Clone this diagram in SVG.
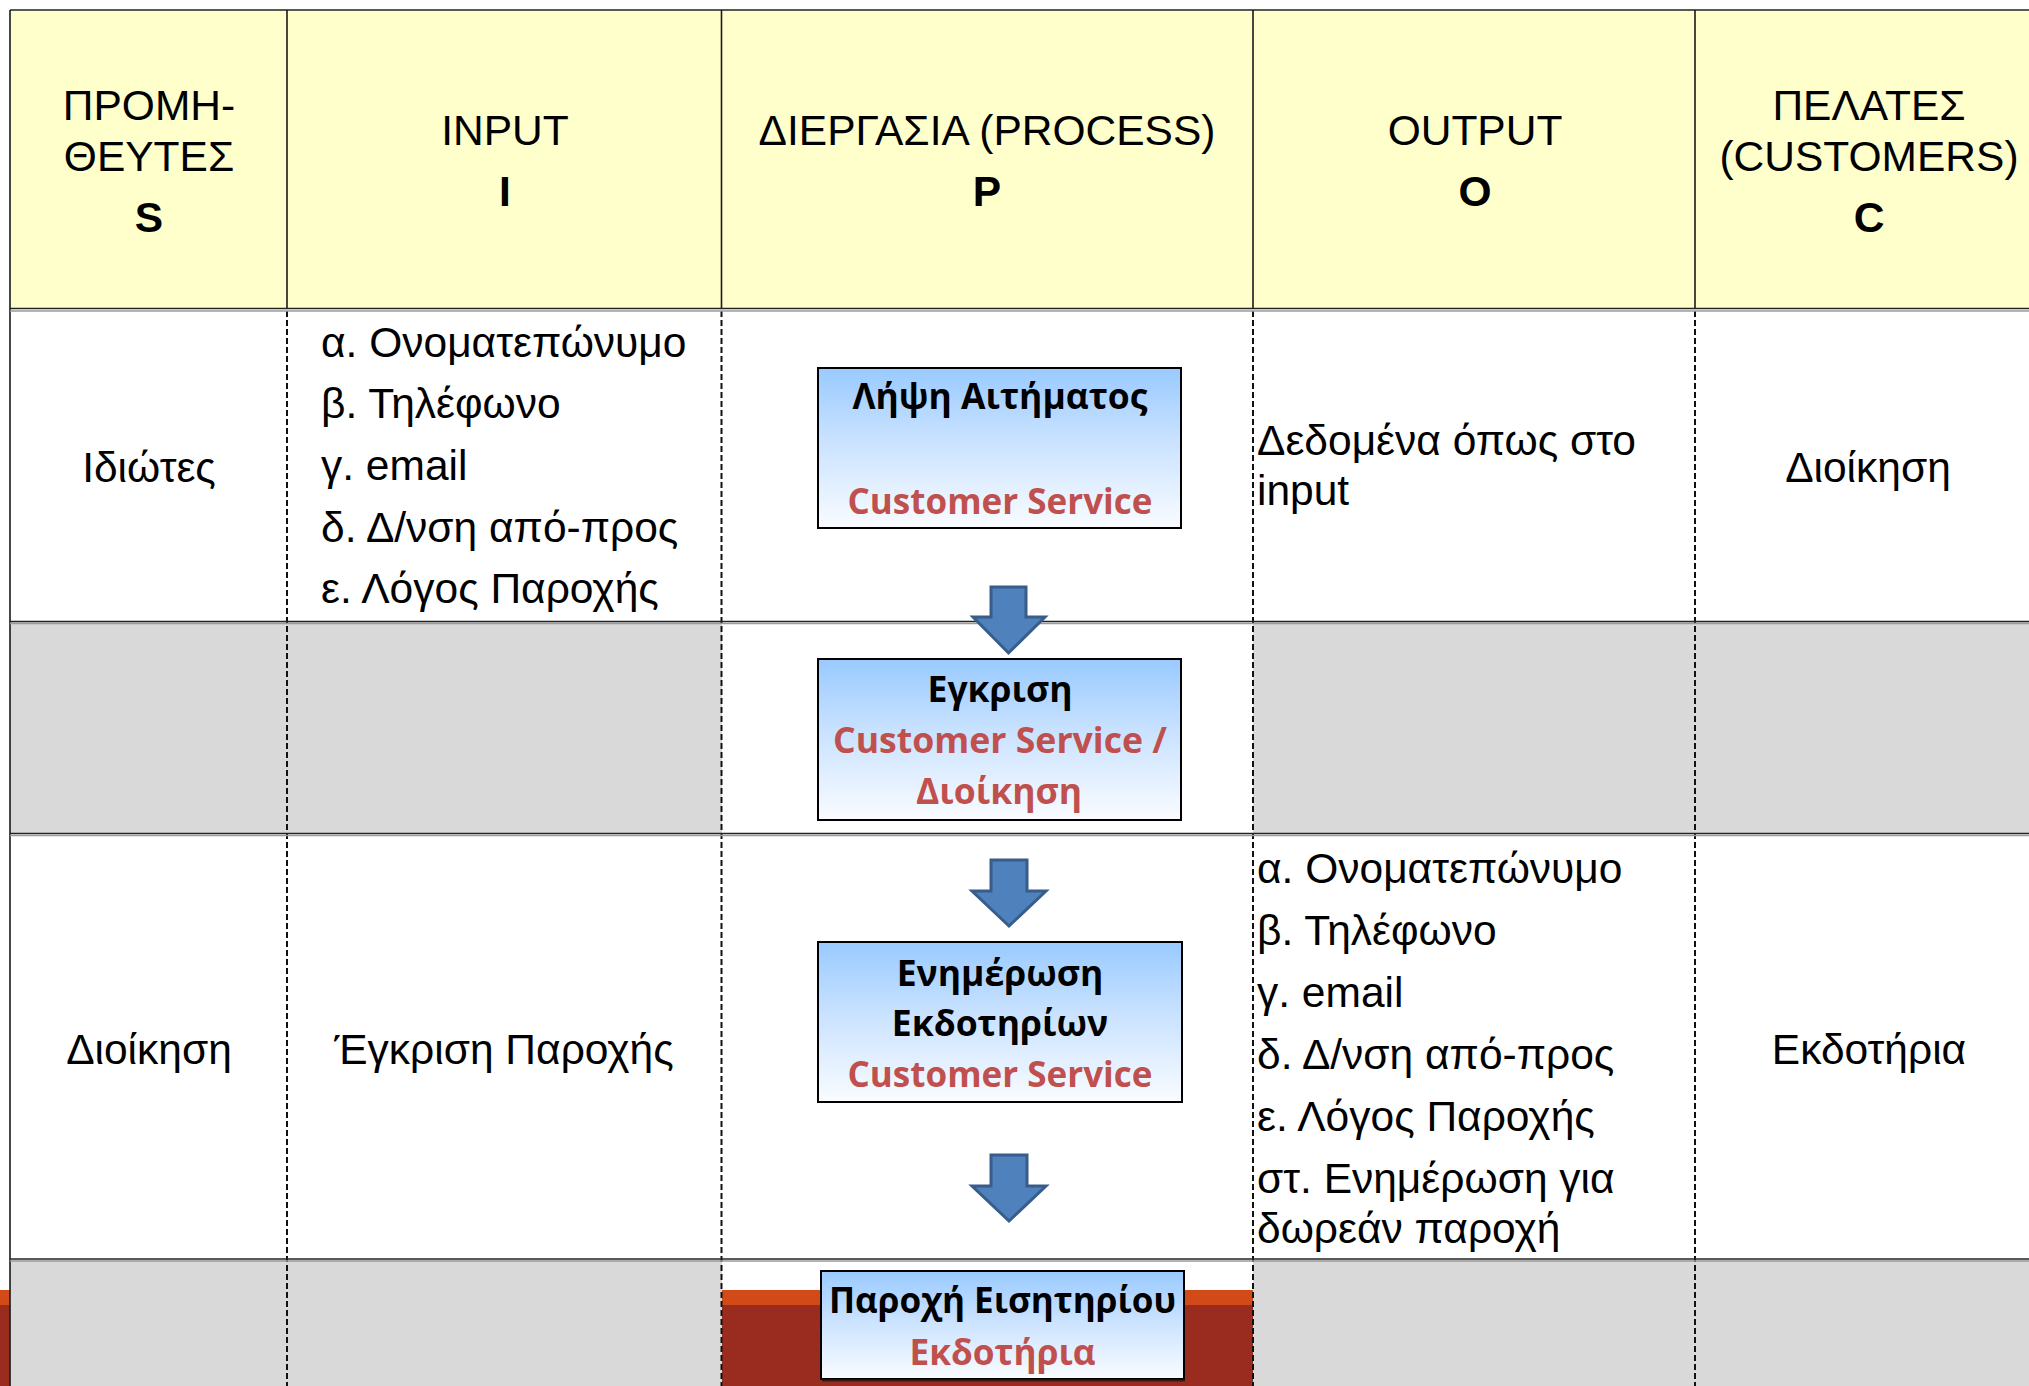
<svg xmlns="http://www.w3.org/2000/svg" width="2029" height="1386" viewBox="0 0 2029 1386">
<style>
.hdr{font-family:"Liberation Sans",Arial,sans-serif;font-size:42.5px;fill:#000;text-anchor:middle}
.hb{font-weight:bold}
.body{font-family:"Liberation Sans",Arial,sans-serif;font-size:42.5px;fill:#000}
.mid{text-anchor:middle}
.bx{font-family:"Open Sans","Noto Sans",sans-serif;font-weight:bold;font-size:35.5px;text-anchor:middle}
.blk{fill:#000}
.red{fill:#C0504D}
.box{fill:url(#bgrad);stroke:#000;stroke-width:2}
.vsolid{stroke:#1a1a1a;stroke-width:1.6}
.vdash{stroke:#111;stroke-width:2;stroke-dasharray:6 3}
.hline{stroke:#222;stroke-width:1.5}
.hshade{stroke:#9a9a9a;stroke-width:1.5}
.arr{fill:#4F81BD;stroke:#385D8A;stroke-width:3;stroke-linejoin:miter}
</style>
<defs>
<linearGradient id="bgrad" x1="0" y1="0" x2="0" y2="1">
<stop offset="0" stop-color="#99CAFF"/>
<stop offset="0.45" stop-color="#C9E2FF"/>
<stop offset="1" stop-color="#FAFCFF"/>
</linearGradient>
</defs>

<g id="background">
<rect x="0" y="0" width="2029" height="1386" fill="#FFFFFF"/>
<rect x="0" y="1290" width="2029" height="15" fill="#D14A18"/>
<rect x="0" y="1305" width="2029" height="81" fill="#9A2C1F"/>
</g>

<g id="table">
<rect x="10" y="10" width="2019" height="299" fill="#FFFFCC"/>
<rect x="10" y="309" width="712" height="313" fill="#FFFFFF"/>
<rect x="722" y="309" width="531" height="950" fill="#FFFFFF"/>
<rect x="1253" y="309" width="776" height="313" fill="#FFFFFF"/>
<rect x="10" y="622" width="712" height="212" fill="#D9D9D9"/>
<rect x="1253" y="622" width="776" height="212" fill="#D9D9D9"/>
<rect x="10" y="834" width="712" height="425" fill="#FFFFFF"/>
<rect x="1253" y="834" width="776" height="425" fill="#FFFFFF"/>
<rect x="10" y="1260" width="712" height="126" fill="#D9D9D9"/>
<rect x="1253" y="1260" width="776" height="126" fill="#D9D9D9"/>
<line x1="10" y1="10" x2="2029" y2="10" class="hline"/>
<line x1="10" y1="10" x2="10" y2="1386" class="vsolid"/>
<line x1="287" y1="10" x2="287" y2="309" class="vsolid"/>
<line x1="721.5" y1="10" x2="721.5" y2="309" class="vsolid"/>
<line x1="1253" y1="10" x2="1253" y2="309" class="vsolid"/>
<line x1="1695" y1="10" x2="1695" y2="309" class="vsolid"/>
<line x1="287" y1="311" x2="287" y2="1386" class="vdash"/>
<line x1="721.5" y1="311" x2="721.5" y2="1386" class="vdash"/>
<line x1="1253" y1="311" x2="1253" y2="1386" class="vdash"/>
<line x1="1695" y1="311" x2="1695" y2="1386" class="vdash"/>
<line x1="10" y1="308.5" x2="2029" y2="308.5" class="hline" stroke-width="2.2"/>
<line x1="10" y1="311" x2="2029" y2="311" class="hshade"/>
<line x1="10" y1="621.5" x2="2029" y2="621.5" class="hline"/>
<line x1="10" y1="623.5" x2="2029" y2="623.5" class="hshade"/>
<line x1="10" y1="833.5" x2="2029" y2="833.5" class="hline"/>
<line x1="10" y1="835.5" x2="2029" y2="835.5" class="hshade"/>
<line x1="10" y1="1259" x2="2029" y2="1259" class="hline"/>
<line x1="10" y1="1261" x2="2029" y2="1261" class="hshade"/>
</g>

<g id="header-S">
<text class="hdr" x="149" y="120">ΠΡΟΜΗ-</text>
<text class="hdr" x="149" y="171">ΘΕΥΤΕΣ</text>
<text class="hdr hb" x="149" y="232">S</text>
</g>
<g id="header-I">
<text class="hdr" x="505" y="145">INPUT</text>
<text class="hdr hb" x="505" y="206">I</text>
</g>
<g id="header-P">
<text class="hdr" x="987" y="145">ΔΙΕΡΓΑΣΙΑ (PROCESS)</text>
<text class="hdr hb" x="987" y="206">P</text>
</g>
<g id="header-O">
<text class="hdr" x="1475" y="145">OUTPUT</text>
<text class="hdr hb" x="1475" y="206">O</text>
</g>
<g id="header-C">
<text class="hdr" x="1869" y="120">ΠΕΛΑΤΕΣ</text>
<text class="hdr" x="1869" y="171">(CUSTOMERS)</text>
<text class="hdr hb" x="1869" y="232">C</text>
</g>

<g id="row1-S"><text class="body mid" x="149" y="482">Ιδιώτες</text></g>
<g id="row1-I">
<text class="body" x="321" y="357">α. Ονοματεπώνυμο</text>
<text class="body" x="321" y="418">β. Τηλέφωνο</text>
<text class="body" x="321" y="480">γ. email</text>
<text class="body" x="321" y="542">δ. Δ/νση από-προς</text>
<text class="body" x="321" y="603">ε. Λόγος Παροχής</text>
</g>
<g id="row1-O">
<text class="body" x="1257" y="455">Δεδομένα όπως στο</text>
<text class="body" x="1257" y="505">input</text>
</g>
<g id="row1-C"><text class="body mid" x="1868" y="482">Διοίκηση</text></g>

<g id="row3-S"><text class="body mid" x="149" y="1064">Διοίκηση</text></g>
<g id="row3-I"><text class="body mid" x="504" y="1064">Έγκριση Παροχής</text></g>
<g id="row3-O">
<text class="body" x="1257" y="883">α. Ονοματεπώνυμο</text>
<text class="body" x="1257" y="945">β. Τηλέφωνο</text>
<text class="body" x="1257" y="1007">γ. email</text>
<text class="body" x="1257" y="1069">δ. Δ/νση από-προς</text>
<text class="body" x="1257" y="1131">ε. Λόγος Παροχής</text>
<text class="body" x="1257" y="1193">στ. Ενημέρωση για</text>
<text class="body" x="1257" y="1243">δωρεάν παροχή</text>
</g>
<g id="row3-C"><text class="body mid" x="1869" y="1064">Εκδοτήρια</text></g>

<g id="connectors">
<path class="arr" d="M991,587 H1026 V617 H1045 L1008.5,653 L973,617 H991 Z"/>
<path class="arr" d="M991,860 H1027 V891 H1046 L1009,926 L972,891 H991 Z"/>
<path class="arr" d="M991,1155 H1027 V1186 H1046 L1009,1221 L972,1186 H991 Z"/>
</g>

<g id="box-lipsi">
<rect class="box" x="818" y="368" width="363" height="160"/>
<text class="bx blk" x="1000" y="409" textLength="295" lengthAdjust="spacingAndGlyphs">Λήψη Αιτήματος</text>
<text class="bx red" x="1000" y="514" textLength="305" lengthAdjust="spacingAndGlyphs">Customer Service</text>
</g>
<g id="box-egkrisi">
<rect class="box" x="818" y="659" width="363" height="161"/>
<text class="bx blk" x="1000" y="702">Εγκριση</text>
<text class="bx red" x="1000" y="753" textLength="334" lengthAdjust="spacingAndGlyphs">Customer Service /</text>
<text class="bx red" x="999" y="804">Διοίκηση</text>
</g>
<g id="box-enimerosi">
<rect class="box" x="818" y="942" width="364" height="160"/>
<text class="bx blk" x="1000" y="986">Ενημέρωση</text>
<text class="bx blk" x="1000" y="1036">Εκδοτηρίων</text>
<text class="bx red" x="1000" y="1087" textLength="305" lengthAdjust="spacingAndGlyphs">Customer Service</text>
</g>
<g id="box-paroxi">
<rect class="box" x="821" y="1271" width="363" height="108"/>
<line x1="822" y1="1380.5" x2="1185" y2="1380.5" stroke="#3a1a14" stroke-width="2"/>
<text class="bx blk" x="1002.5" y="1313" textLength="347" lengthAdjust="spacingAndGlyphs">Παροχή Εισητηρίου</text>
<text class="bx red" x="1002.5" y="1365" textLength="186" lengthAdjust="spacingAndGlyphs">Εκδοτήρια</text>
</g>
</svg>
